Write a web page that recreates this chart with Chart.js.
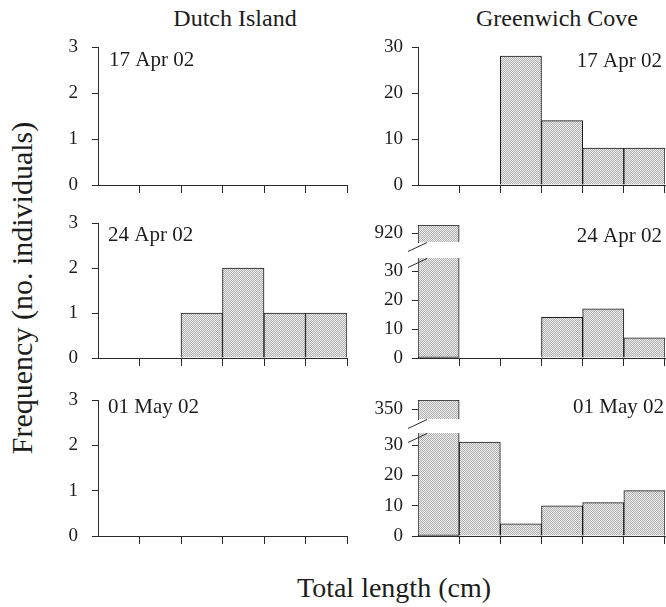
<!DOCTYPE html>
<html>
<head>
<meta charset="utf-8">
<title>Total length frequency</title>
<script src="https://cdn.jsdelivr.net/npm/chart.js@4.4.1/dist/chart.umd.min.js"></script>
<style>
  html, body { margin: 0; padding: 0; background: #fff; }
  body { width: 666px; height: 607px; position: relative; overflow: hidden;
         font-family: 'Liberation Serif', 'Times New Roman', serif; color: #1c1c1c; }
  .panel { position: absolute; }
  .panel canvas { display: block; }
  .txt { position: absolute; white-space: nowrap; transform: translate(-50%, -50%); }
  #ytitle { transform: translate(-50%, -50%) rotate(-90deg); }
</style>
</head>
<body>
<div class="txt" style="left:235px; top:18px; font-size:24px;">Dutch Island</div>
<div class="txt" style="left:557px; top:18px; font-size:24px;">Greenwich Cove</div>
<div class="txt" id="ytitle" style="left:22px; top:288px; font-size:30px;">Frequency (no. individuals)</div>
<div class="txt" style="left:394px; top:588px; font-size:28px;">Total length (cm)</div>

<script>
// size classes (the axis carries no labels in the original)
const bins = ['1', '2', '3', '4', '5', '6'];
const dates = ['17 Apr 02', '24 Apr 02', '01 May 02'];

const dutchApr17 = [0, 0, 0, 0, 0, 0];
const dutchApr24 = [0, 0, 1, 2, 1, 1];
const dutchMay01 = [0, 0, 0, 0, 0, 0];
const greenwichApr17 = [0, 0, 28, 14, 8, 8];
const greenwichApr24 = [920, 0, 0, 14, 17, 7];
const greenwichMay01 = [350, 31, 4, 10, 11, 15];

const dutchTicks = [0, 1, 2, 3];
const greenwichTicks = [0, 10, 20, 30];

const FONT = "'Liberation Serif', 'Times New Roman', serif";
const TXT = '#1c1c1c';
const AXIS = '#2a2a2a';
const AXIS_W = 60;
const PAD_T = 30;   // room above the plot for the top tick label
const X_H = 30;     // x axis box (tick marks only)
const STUB = 10;    // half height of the stub box above the axis break

function stipple() {
    const c = document.createElement('canvas');
    c.width = 2; c.height = 2;
    const g = c.getContext('2d');
    g.fillStyle = '#ededed';
    g.fillRect(0, 0, 2, 2);
    g.fillStyle = '#b0b0b0';
    g.fillRect(0, 0, 1, 1);
    g.fillRect(1, 1, 1, 1);
    return g.createPattern(c, 'repeat');
}
const fill = stipple();

// panels: box = chart area [left, top, right, bottom]
const panels = [
    { values: dutchApr17, date: dates[0], ticks: dutchTicks, max: 3, box: [98, 47, 347, 185], side: 'left', dx: 11, dy: 13 },
    { values: dutchApr24, date: dates[1], ticks: dutchTicks, max: 3, box: [98, 223, 347, 358], side: 'left', dx: 10, dy: 12 },
    { values: dutchMay01, date: dates[2], ticks: dutchTicks, max: 3, box: [98, 400, 347, 536], side: 'left', dx: 10, dy: 7 },
    { values: greenwichApr17, date: dates[0], ticks: greenwichTicks, max: 30, box: [418, 47, 665, 185], side: 'right', dx: 3, dy: 14 },
    { values: greenwichApr24, date: dates[1], ticks: greenwichTicks, max: 34.5, breakAt: 34.5, weights: [100, 16, 17],
      box: [418, 225, 665, 358], side: 'right', dx: 3, dy: 11 },
    { values: greenwichMay01, date: dates[2], ticks: greenwichTicks, max: 34, breakAt: 34, weights: [103, 14, 19],
      box: [418, 400, 665, 536], side: 'right', dx: 1, dy: 7 }
];

const panelLabel = {
    id: 'panelLabel',
    afterDraw(chart, args, opts) {
        const { ctx, chartArea } = chart;
        ctx.save();
        ctx.font = '21px ' + FONT;
        ctx.fillStyle = TXT;
        ctx.textBaseline = 'middle';
        if (opts.align === 'right') {
            ctx.textAlign = 'right';
            ctx.fillText(opts.text, chartArea.right - opts.dx, chartArea.top + opts.dy);
        } else {
            ctx.textAlign = 'left';
            ctx.fillText(opts.text, chartArea.left + opts.dx, chartArea.top + opts.dy);
        }
        ctx.restore();
    }
};

// the two little slashes where the y axis is broken
const breakMarks = {
    id: 'breakMarks',
    afterDraw(chart) {
        const top = chart.scales.yTop;
        if (!top) return;
        const low = chart.scales.y;
        const x = chart.chartArea.left;
        const { ctx } = chart;
        ctx.save();
        ctx.strokeStyle = AXIS;
        ctx.lineWidth = 1;
        [top.bottom + 5, low.top + 5].forEach(y => {
            ctx.beginPath();
            ctx.moveTo(x - 10, y + 4.5);
            ctx.lineTo(x + 9, y - 4.5);
            ctx.stroke();
        });
        ctx.restore();
    }
};

function yAxis(tickValues, max, pad, extra) {
    return Object.assign({
        type: 'linear',
        position: 'left',
        min: 0,
        max: max,
        afterBuildTicks: s => { s.ticks = tickValues.map(v => ({ value: v })); },
        ticks: { font: { family: FONT, size: 19 }, color: TXT, padding: pad, autoSkip: false },
        grid: { drawOnChartArea: false, tickLength: 6, color: AXIS },
        border: { color: AXIS },
        afterFit: s => { s.width = AXIS_W; }
    }, extra || {});
}

function makePanel(p) {
    const padR = p.side === 'left' ? 8 : 1;
    const w = (p.box[2] - p.box[0]) + AXIS_W + padR;
    const h = (p.box[3] - p.box[1]) + PAD_T + X_H;
    const wrap = document.createElement('div');
    wrap.className = 'panel';
    wrap.style.left = (p.box[0] - AXIS_W) + 'px';
    wrap.style.top = (p.box[1] - PAD_T) + 'px';
    const canvas = document.createElement('canvas');
    canvas.width = w; canvas.height = h;
    canvas.style.width = w + 'px'; canvas.style.height = h + 'px';
    wrap.appendChild(canvas);
    document.body.appendChild(wrap);

    const tickPad = p.side === 'left' ? 14 : 9;
    const barStyle = {
        backgroundColor: fill,
        borderColor: '#1a1a1a',
        borderWidth: 1,
        barPercentage: 1,
        categoryPercentage: 1,
        grouped: false
    };

    const scales = {
        x: {
            type: 'category',
            labels: bins,
            offset: true,
            grid: {
                offset: true,
                drawOnChartArea: false,
                tickLength: 8,
                color: ctx => ctx.index === 0 ? 'rgba(0,0,0,0)' : AXIS
            },
            border: { color: AXIS },
            ticks: { display: false },
            afterFit: s => { s.height = X_H; }
        }
    };
    const datasets = [];

    if (p.breakAt === undefined) {
        datasets.push(Object.assign({ data: p.values, yAxisID: 'y' }, barStyle));
        scales.y = yAxis(p.ticks, p.max, tickPad);
    } else {
        const brk = p.breakAt;
        datasets.push(Object.assign({
            data: p.values.map(v => Math.min(v, brk)),
            yAxisID: 'y',
            borderSkipped: ctx => p.values[ctx.dataIndex] > brk ? 'end' : 'start'
        }, barStyle));
        const big = p.values.find(v => v > brk);
        datasets.push(Object.assign({
            data: p.values.map(v => v > brk ? [v - STUB, v + STUB] : null),
            yAxisID: 'yTop',
            borderSkipped: 'start'
        }, barStyle));
        scales.y = yAxis(p.ticks, brk, tickPad, { stack: 'brk', stackWeight: p.weights[0] });
        scales.yGap = {
            type: 'linear', position: 'left', min: 0, max: 1,
            stack: 'brk', stackWeight: p.weights[1],
            ticks: { display: false },
            grid: { display: false },
            border: { display: false },
            afterFit: s => { s.width = AXIS_W; }
        };
        scales.yTop = yAxis([big], big + STUB, tickPad, {
            min: big - STUB, stack: 'brk', stackWeight: p.weights[2]
        });
    }

    new Chart(canvas.getContext('2d'), {
        type: 'bar',
        data: { labels: bins, datasets: datasets },
        options: {
            responsive: false,
            animation: false,
            devicePixelRatio: 1,
            layout: { padding: { top: PAD_T, right: padR, left: 0, bottom: 0 } },
            scales: scales,
            plugins: {
                legend: { display: false },
                tooltip: { enabled: false },
                panelLabel: { text: p.date, align: p.side === 'left' ? 'left' : 'right', dx: p.dx, dy: p.dy }
            }
        },
        plugins: [panelLabel, breakMarks]
    });
}

panels.forEach(makePanel);
</script>
</body>
</html>
